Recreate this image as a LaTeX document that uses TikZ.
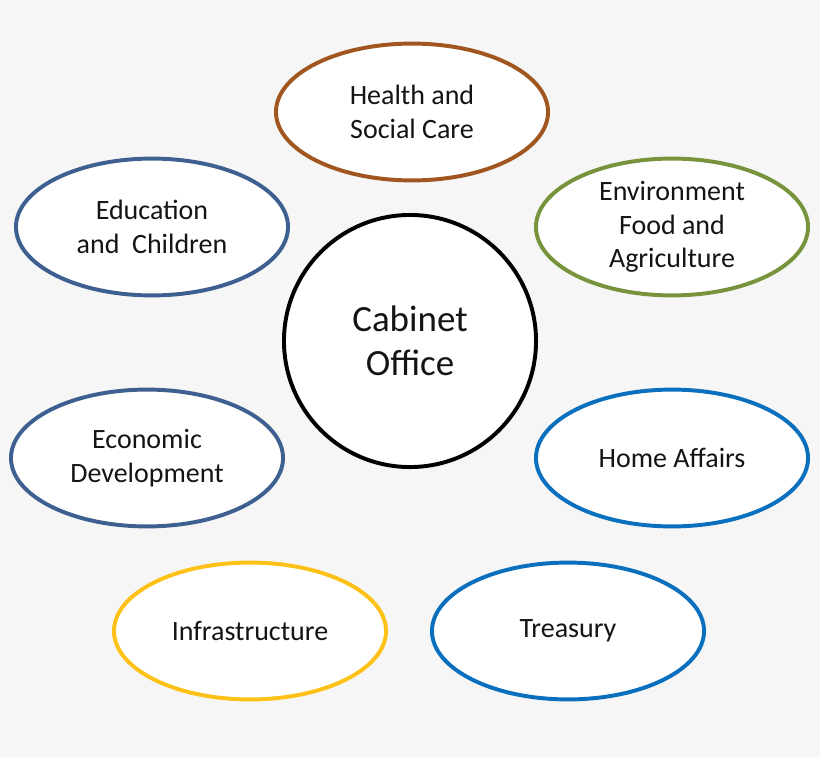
\documentclass[tikz,border=0pt]{standalone}
\usepackage{fontspec}
\setmainfont{Carlito}
\usetikzlibrary{shapes.geometric}
\definecolor{bgcol}{HTML}{F6F6F6}
\definecolor{healthcol}{HTML}{A0561E}
\definecolor{slatecol}{HTML}{3E6090}
\definecolor{olivecol}{HTML}{77933C}
\definecolor{bluecol}{HTML}{0A70BE}
\definecolor{goldcol}{HTML}{FDC118}
\begin{document}
\begin{tikzpicture}[x=0.025cm,y=-0.025cm,
  dept/.style={ellipse, draw, line width=2.8pt, fill=white, inner sep=0pt,
    minimum width=6.8cm, minimum height=3.42cm, align=center, text=black!92,
    font=\fontsize{19.9}{24}\selectfont},
  hub/.style={circle, draw=black, line width=2.8pt, fill=white, inner sep=0pt,
    minimum size=6.3cm, align=center, text=black!92,
    font=\fontsize{26.3}{31}\selectfont}]
\useasboundingbox[fill=bgcol] (0,0) rectangle (820,757);
%
\node[hub] (cabinet) at (410,341) {Cabinet\\Office};
%
\node[dept, draw=healthcol] (health) at (412,112) {Health and\\Social Care};
\node[dept, draw=slatecol] (educ) at (152,227) {Education\\and\ \ Children};
\node[dept, draw=olivecol] (envir) at (672,227) {Environment\\Food and\\Agriculture};
%
\node[dept, draw=slatecol] (econ) at (147,458) {Economic\\Development};
\node[dept, draw=bluecol] (home) at (672,458) {Home Affairs};
%
\node[dept, draw=goldcol] (infra) at (250,631) {Infrastructure};
\node[dept, draw=bluecol] (treas) at (568,631) {Treasury};
\end{tikzpicture}
\end{document}
